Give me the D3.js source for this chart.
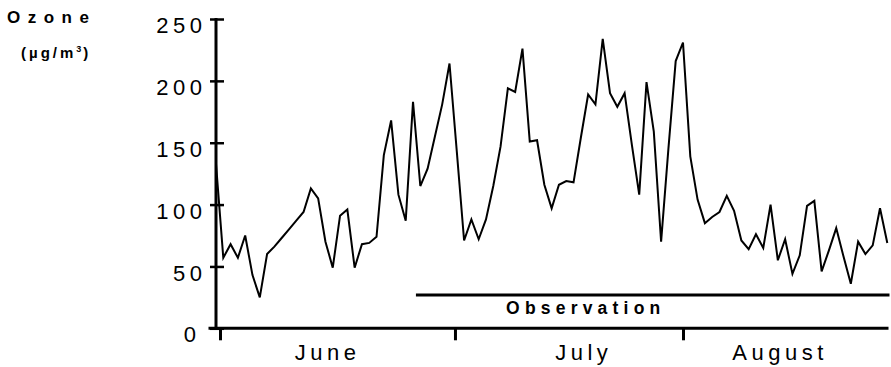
<!DOCTYPE html>
<html>
<head>
<meta charset="utf-8">
<script src="https://cdn.jsdelivr.net/npm/d3@7"></script>
<style>
  html, body { margin: 0; padding: 0; background: #fff; }
  svg { display: block; font-family: "Liberation Sans", Arial, Helvetica, sans-serif; }
</style>
</head>
<body>
<svg id="chart" width="891" height="367"></svg>
<script>
// Daily ozone concentration (µg/m³), one value per day over the summer
const ozone = [
  133, 57, 68, 57, 75, 43, 25, 60, 66, 73,
  80, 87, 94, 113, 105, 70, 49, 91, 96, 49,
  68, 69, 74, 140, 168, 108, 87, 183, 115, 129,
  155, 181, 214, 143, 71, 88, 72, 88, 115, 147,
  194, 191, 226, 151, 152, 116, 97, 116, 119, 118,
  154, 189, 181, 234, 190, 179, 190, 148, 108, 199,
  159, 70, 145, 216, 231, 139, 104, 85, 90, 94,
  107, 95, 71, 64, 76, 65, 100, 55, 72, 44,
  59, 99, 103, 46, 63, 81, 58, 36, 70, 60,
  67, 97, 69
];
const yTicks = [0, 50, 100, 150, 200, 250];
// Month boundaries and month-label positions, in day index units
const monthTicks = [0.55, 32.75, 64];
const months = ["June", "July", "August"];
const monthLabelAt = [15.0, 50.1, 77];
// Observation campaign period, in day index units
const observationPeriod = [27.4, 92.3];
const observationLabel = "Observation";

const svg = d3.select("#chart");

const x = d3.scaleLinear().domain([0, ozone.length - 1]).range([216, 887.3]);
const y = d3.scaleLinear().domain([0, 250]).range([328.3, 19]);

// y axis
const yAxis = svg.append("g")
  .attr("transform", `translate(${x(0)},0)`)
  .call(d3.axisLeft(y).tickValues(yTicks).tickSize(0).tickPadding(0).tickFormat(d3.format("d")));
yAxis.select(".domain").remove();
yAxis.selectAll(".tick line").remove();
yAxis.selectAll(".tick").append("line")
  .attr("x1", -6).attr("x2", 8)
  .attr("stroke", "#000").attr("stroke-width", 2.5);
yAxis.selectAll(".tick text")
  .attr("x", -9.5)
  .attr("dy", "0.62em")
  .attr("fill", "#000")
  .style("font-size", "22px")
  .style("letter-spacing", "4.5px")
  .style("font-family", "'Liberation Sans', Arial, sans-serif");
yAxis.selectAll(".tick").filter(d => d === 0).select("text").attr("x", -15.5);

svg.append("line")
  .attr("x1", x(0)).attr("x2", x(0))
  .attr("y1", y(250) - 1).attr("y2", y(0))
  .attr("stroke", "#000").attr("stroke-width", 3);

// x axis with month boundary ticks
const xAxis = svg.append("g")
  .attr("transform", `translate(0,${y(0)})`)
  .call(d3.axisBottom(x).tickValues(monthTicks).tickSize(12).tickFormat(""));
xAxis.select(".domain").remove();
xAxis.selectAll(".tick line").attr("stroke", "#000").attr("stroke-width", 3);

svg.append("line")
  .attr("x1", 208.5).attr("x2", 888.5)
  .attr("y1", y(0)).attr("y2", y(0))
  .attr("stroke", "#000").attr("stroke-width", 3);

svg.append("g").selectAll("text")
  .data(months)
  .join("text")
  .attr("x", (d, i) => x(monthLabelAt[i]) + 2.25)
  .attr("y", 360)
  .attr("text-anchor", "middle")
  .style("font-size", "22px")
  .style("letter-spacing", "4.5px")
  .text(d => d);

// observation period bar
svg.append("line")
  .attr("x1", x(observationPeriod[0])).attr("x2", x(observationPeriod[1]))
  .attr("y1", 295).attr("y2", 295)
  .attr("stroke", "#000").attr("stroke-width", 3);
svg.append("text")
  .attr("x", x(50.3) + 2.75)
  .attr("y", 313.5)
  .attr("text-anchor", "middle")
  .style("font-size", "17.5px")
  .style("font-weight", "bold")
  .style("letter-spacing", "5.2px")
  .text(observationLabel);

// ozone series
svg.append("path")
  .datum(ozone)
  .attr("fill", "none")
  .attr("stroke", "#000")
  .attr("stroke-width", 2)
  .attr("stroke-linejoin", "miter")
  .attr("d", d3.line().x((d, i) => x(i)).y(d => y(d)));

// y axis title
svg.append("text")
  .attr("x", 7).attr("y", 22.7)
  .style("font-size", "17px")
  .style("font-weight", "bold")
  .style("letter-spacing", "7.5px")
  .text("Ozone");
const unit = svg.append("text")
  .attr("x", 21).attr("y", 57.5)
  .style("font-size", "15px")
  .style("font-weight", "bold")
  .style("letter-spacing", "3px");
unit.append("tspan").text("(µg/m");
unit.append("tspan").attr("dy", -6).style("font-size", "9px").style("letter-spacing", "0px").text("3");
unit.append("tspan").attr("dy", 6).attr("dx", 2).text(")");
</script>
</body>
</html>
